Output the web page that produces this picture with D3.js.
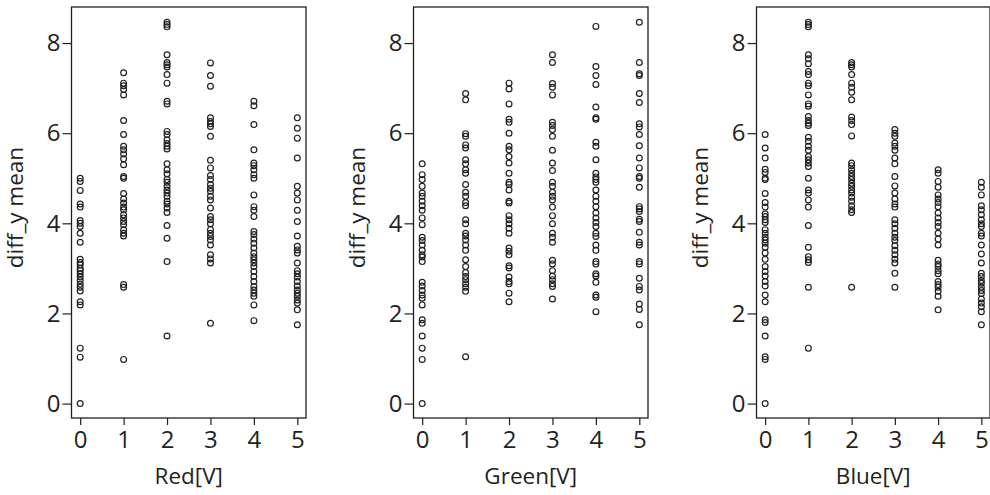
<!DOCTYPE html>
<html>
<head>
<meta charset="utf-8">
<script src="https://cdn.jsdelivr.net/npm/d3@7"></script>
<style>
  body { margin: 0; background: #fff; }
  svg text { font-family: "Open Sans", "Noto Sans", sans-serif; fill: #231f20; }
</style>
</head>
<body>
<svg id="chart" width="990" height="495"></svg>
<script>
// voltage steps on the x axis
const voltages = [0, 1, 2, 3, 4, 5];
const yTicks = [0, 2, 4, 6, 8];

// diff_y mean per voltage step
const redValues = [
  [5.0, 4.93, 4.73, 4.43, 4.36, 4.06, 4.0, 3.93, 3.78, 3.58, 3.2, 3.13, 3.08, 3.0, 2.95, 2.88, 2.81, 2.73, 2.65, 2.58, 2.5, 2.26, 2.19, 1.23, 1.03, 0],
  [7.34, 7.11, 7.05, 6.97, 6.85, 6.28, 5.97, 5.71, 5.63, 5.54, 5.43, 5.3, 5.04, 5.0, 4.66, 4.54, 4.45, 4.36, 4.3, 4.19, 4.12, 4.04, 3.97, 3.86, 3.78, 3.72, 2.64, 2.58, 0.98],
  [8.46, 8.41, 8.36, 7.74, 7.57, 7.52, 7.47, 7.3, 7.11, 6.71, 6.65, 6.04, 5.97, 5.85, 5.77, 5.71, 5.65, 5.32, 5.19, 5.1, 4.97, 4.91, 4.82, 4.74, 4.67, 4.6, 4.49, 4.43, 4.34, 4.24, 3.95, 3.67, 3.15, 1.5],
  [7.56, 7.28, 7.04, 6.34, 6.26, 6.21, 6.15, 5.93, 5.4, 5.23, 5.06, 4.97, 4.86, 4.78, 4.71, 4.6, 4.52, 4.34, 4.15, 4.08, 3.99, 3.86, 3.78, 3.71, 3.63, 3.52, 3.3, 3.21, 3.12, 1.78],
  [6.71, 6.61, 6.19, 5.63, 5.34, 5.28, 5.19, 5.08, 5.0, 4.63, 4.37, 4.29, 4.15, 3.82, 3.75, 3.65, 3.56, 3.45, 3.34, 3.26, 3.19, 3.12, 3.04, 2.93, 2.82, 2.71, 2.6, 2.52, 2.45, 2.38, 2.19, 1.84],
  [6.34, 6.11, 5.89, 5.45, 4.82, 4.67, 4.52, 4.29, 4.04, 3.72, 3.49, 3.41, 3.34, 3.12, 2.95, 2.88, 2.81, 2.71, 2.61, 2.52, 2.45, 2.38, 2.3, 2.23, 2.08, 1.75]
];

const greenValues = [
  [5.32, 5.08, 4.97, 4.82, 4.67, 4.6, 4.49, 4.39, 4.29, 4.12, 3.97, 3.69, 3.62, 3.52, 3.4, 3.3, 3.25, 3.15, 2.69, 2.61, 2.51, 2.41, 2.34, 2.19, 1.86, 1.78, 1.5, 1.23, 0.98, 0],
  [6.88, 6.74, 5.99, 5.93, 5.74, 5.67, 5.41, 5.32, 5.19, 5.11, 4.86, 4.69, 4.6, 4.46, 4.39, 4.08, 3.99, 3.78, 3.72, 3.63, 3.52, 3.4, 3.19, 3.04, 2.91, 2.82, 2.75, 2.66, 2.58, 2.49, 1.04],
  [7.11, 6.98, 6.65, 6.31, 6.24, 6.0, 5.71, 5.63, 5.48, 5.34, 5.11, 4.91, 4.86, 4.74, 4.49, 4.45, 4.17, 4.08, 3.99, 3.89, 3.78, 3.45, 3.38, 3.3, 3.06, 3.01, 2.81, 2.71, 2.66, 2.45, 2.26],
  [7.74, 7.57, 7.1, 7.02, 6.85, 6.24, 6.17, 6.08, 5.93, 5.62, 5.34, 5.17, 4.91, 4.82, 4.69, 4.6, 4.52, 4.36, 4.17, 3.99, 3.78, 3.69, 3.58, 3.18, 3.1, 2.95, 2.83, 2.75, 2.66, 2.6, 2.32],
  [8.37, 7.48, 7.28, 7.08, 6.58, 6.34, 6.31, 5.8, 5.71, 5.41, 5.11, 5.03, 4.97, 4.91, 4.74, 4.6, 4.49, 4.37, 4.23, 4.12, 4.02, 3.93, 3.78, 3.71, 3.52, 3.4, 3.15, 3.1, 2.88, 2.83, 2.69, 2.41, 2.36, 2.04],
  [8.46, 7.57, 7.32, 7.28, 6.88, 6.68, 6.21, 6.14, 5.97, 5.72, 5.45, 5.23, 5.04, 5.0, 4.8, 4.37, 4.32, 4.26, 4.09, 4.04, 3.8, 3.58, 3.52, 3.15, 3.1, 2.78, 2.6, 2.52, 2.21, 2.09, 1.75]
];

const blueValues = [
  [5.97, 5.67, 5.45, 5.2, 5.13, 5.0, 4.97, 4.66, 4.46, 4.36, 4.21, 4.15, 4.08, 4.02, 3.86, 3.78, 3.69, 3.63, 3.56, 3.47, 3.34, 3.2, 3.04, 2.93, 2.83, 2.71, 2.61, 2.41, 2.26, 1.86, 1.8, 1.5, 1.04, 0.98, 0],
  [8.46, 8.41, 8.36, 7.74, 7.65, 7.54, 7.37, 7.3, 7.11, 7.05, 6.85, 6.65, 6.6, 6.37, 6.28, 6.22, 6.17, 5.91, 5.82, 5.71, 5.62, 5.48, 5.41, 5.34, 5.26, 5.0, 4.74, 4.67, 4.52, 4.36, 3.95, 3.47, 3.26, 3.19, 3.13, 2.58, 1.23],
  [7.57, 7.52, 7.47, 7.3, 7.11, 7.02, 6.91, 6.74, 6.36, 6.28, 6.19, 5.94, 5.34, 5.28, 5.19, 5.11, 5.04, 4.97, 4.89, 4.82, 4.74, 4.67, 4.58, 4.49, 4.39, 4.3, 4.24, 2.58],
  [6.08, 6.0, 5.93, 5.78, 5.71, 5.62, 5.45, 5.32, 5.04, 4.83, 4.67, 4.54, 4.43, 4.36, 4.08, 3.99, 3.89, 3.78, 3.69, 3.62, 3.5, 3.4, 3.3, 3.2, 3.12, 2.89, 2.58],
  [5.19, 5.11, 4.93, 4.8, 4.63, 4.54, 4.46, 4.37, 4.23, 4.12, 4.02, 3.93, 3.78, 3.65, 3.52, 3.18, 3.1, 3.04, 2.95, 2.88, 2.71, 2.64, 2.58, 2.49, 2.38, 2.08],
  [4.91, 4.8, 4.63, 4.39, 4.3, 4.19, 4.08, 3.99, 3.93, 3.78, 3.72, 3.52, 3.32, 3.12, 2.89, 2.82, 2.73, 2.67, 2.58, 2.51, 2.44, 2.32, 2.23, 2.15, 2.04, 1.75]
];

const panels = [
  { label: "Red[V]", values: redValues, left: 71.5, right: 306 },
  { label: "Green[V]", values: greenValues, left: 413.5, right: 648 },
  { label: "Blue[V]", values: blueValues, left: 756.5, right: 990 }
];

const svg = d3.select("#chart");
const plotTop = 7, plotBottom = 418;

const y = d3.scaleLinear().domain([-0.32, 8.8]).range([plotBottom, plotTop]);

panels.forEach(p => {
  const x = d3.scaleLinear().domain([-0.2, 5.2]).range([p.left, p.right]);
  const g = svg.append("g");

  // frame
  g.append("rect")
    .attr("x", p.left).attr("y", plotTop)
    .attr("width", p.right - p.left).attr("height", plotBottom - plotTop)
    .attr("fill", "none").attr("stroke", "#231f20").attr("stroke-width", 1.3);

  const yAxis = g.append("g")
    .attr("transform", `translate(${p.left},0)`)
    .call(d3.axisLeft(y).tickValues(yTicks).tickFormat(d3.format("d")).tickSize(9).tickPadding(2));
  yAxis.select(".domain").remove();
  yAxis.selectAll("line").attr("stroke", "#231f20").attr("stroke-width", 1.2);
  yAxis.selectAll("text").style("font-size", "24px").attr("fill", "#231f20");

  const xAxis = g.append("g")
    .attr("transform", `translate(0,${plotBottom})`)
    .call(d3.axisBottom(x).tickValues(voltages).tickFormat(d3.format("d")).tickSize(7).tickPadding(6));
  xAxis.select(".domain").remove();
  xAxis.selectAll("line").attr("stroke", "#231f20").attr("stroke-width", 1.2);
  xAxis.selectAll("text").style("font-size", "24px").attr("fill", "#231f20");

  // axis titles
  g.append("text")
    .attr("x", (p.left + p.right) / 2).attr("y", 484)
    .attr("text-anchor", "middle")
    .style("font-size", "22.5px")
    .text(p.label);

  g.append("text")
    .attr("transform", `translate(${p.left - 49},${y(4.35)}) rotate(-90)`)
    .attr("text-anchor", "middle")
    .style("font-size", "22.5px")
    .text("diff_y mean");

  // points
  const pts = [];
  p.values.forEach((col, i) => col.forEach(v => pts.push({ v: voltages[i], d: v })));
  g.selectAll("circle")
    .data(pts)
    .join("circle")
    .attr("cx", d => x(d.v))
    .attr("cy", d => y(d.d))
    .attr("r", 2.9)
    .attr("fill", "none")
    .attr("stroke", "#231f20")
    .attr("stroke-width", 1.2);
});
</script>
</body>
</html>
